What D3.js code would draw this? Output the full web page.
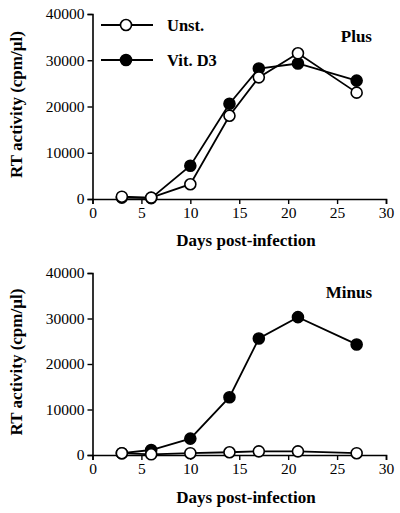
<!DOCTYPE html>
<html><head><meta charset="utf-8">
<script src="https://cdn.jsdelivr.net/npm/d3@7/dist/d3.min.js"></script>
<style>body{margin:0;background:#fff}svg{display:block}</style>
</head><body>
<script>
const days = [3, 6, 10, 14, 17, 21, 27];
const plusUnst = [500, 300, 3200, 18000, 26300, 31500, 23000];
const plusVitD3 = [300, 200, 7200, 20600, 28200, 29300, 25600];
const minusUnst = [400, 150, 400, 600, 800, 800, 400];
const minusVitD3 = [400, 1100, 3600, 12700, 25600, 30300, 24300];
const xTicks = [0, 5, 10, 15, 20, 25, 30];
const yTicks = [0, 10000, 20000, 30000, 40000];
const seriesNames = ["Unst.", "Vit. D3"];
const panelLabels = ["Plus", "Minus"];
const xTitle = "Days post-infection";
const yTitle = "RT activity (cpm/\u00b5l)";

const W = 400, H = 513;
const svg = d3.select("body").append("svg").attr("width", W).attr("height", H);
const font = "'Liberation Serif', 'DejaVu Serif', serif";

const panels = [
  {top: 14, bottom: 199, unst: plusUnst, vit: plusVitD3, label: panelLabels[0], legend: true, labelY: 42, titleY: 246},
  {top: 273, bottom: 455, unst: minusUnst, vit: minusVitD3, label: panelLabels[1], legend: false, labelY: 298, titleY: 503}
];
const x0 = 92.5, x1 = 386;

panels.forEach(p => {
  const x = d3.scaleLinear().domain([0, 30]).range([x0, x1]);
  const y = d3.scaleLinear().domain([0, 40000]).range([p.bottom, p.top]);
  const g = svg.append("g");

  const xa = g.append("g").attr("transform", `translate(0,${p.bottom})`)
    .call(d3.axisBottom(x).tickValues(xTicks).tickSize(5).tickPadding(3).tickFormat(d3.format("d")));
  const ya = g.append("g").attr("transform", `translate(${x0},0)`)
    .call(d3.axisLeft(y).tickValues(yTicks).tickSize(5).tickPadding(3).tickFormat(d3.format("d")));
  [xa, ya].forEach(a => {
    a.select(".domain").attr("stroke", "#000").attr("stroke-width", 1.6);
    a.selectAll(".tick line").attr("stroke", "#000").attr("stroke-width", 1.4);
    a.selectAll(".tick text").attr("font-family", font).attr("font-size", 15.5).attr("fill", "#000");
  });

  const line = d3.line().x((d, i) => x(days[i])).y(d => y(d));
  [[p.vit, "#000"], [p.unst, "#fff"]].forEach(([vals, fill]) => {
    g.append("path").datum(vals).attr("d", line).attr("fill", "none")
      .attr("stroke", "#000").attr("stroke-width", 1.8);
    g.selectAll(null).data(vals).enter().append("circle")
      .attr("cx", (d, i) => x(days[i])).attr("cy", d => y(d)).attr("r", 5.5)
      .attr("fill", fill).attr("stroke", "#000").attr("stroke-width", 1.6);
  });

  g.append("text").attr("x", 372).attr("y", p.labelY).attr("text-anchor", "end")
    .attr("font-family", font).attr("font-weight", "bold").attr("font-size", 17).text(p.label);

  g.append("text").attr("x", 246).attr("y", p.titleY).attr("text-anchor", "middle")
    .attr("font-family", font).attr("font-weight", "bold").attr("font-size", 17).text(xTitle);

  g.append("text").attr("transform", `translate(22,${(p.top + p.bottom) / 2 - 2}) rotate(-90)`)
    .attr("text-anchor", "middle").attr("font-family", font).attr("font-weight", "bold")
    .attr("font-size", 17).text(yTitle);

  if (p.legend) {
    const items = [["#fff", 25], ["#000", 60]];
    items.forEach(([fill, ly], i) => {
      g.append("line").attr("x1", 101).attr("x2", 153).attr("y1", ly).attr("y2", ly)
        .attr("stroke", "#000").attr("stroke-width", 1.8);
      g.append("circle").attr("cx", 126).attr("cy", ly).attr("r", 5.5)
        .attr("fill", fill).attr("stroke", "#000").attr("stroke-width", 1.6);
      g.append("text").attr("x", 167).attr("y", ly + 5.5).attr("font-family", font)
        .attr("font-weight", "bold").attr("font-size", 16.5).text(seriesNames[i]);
    });
  }
});
</script>
</body></html>
